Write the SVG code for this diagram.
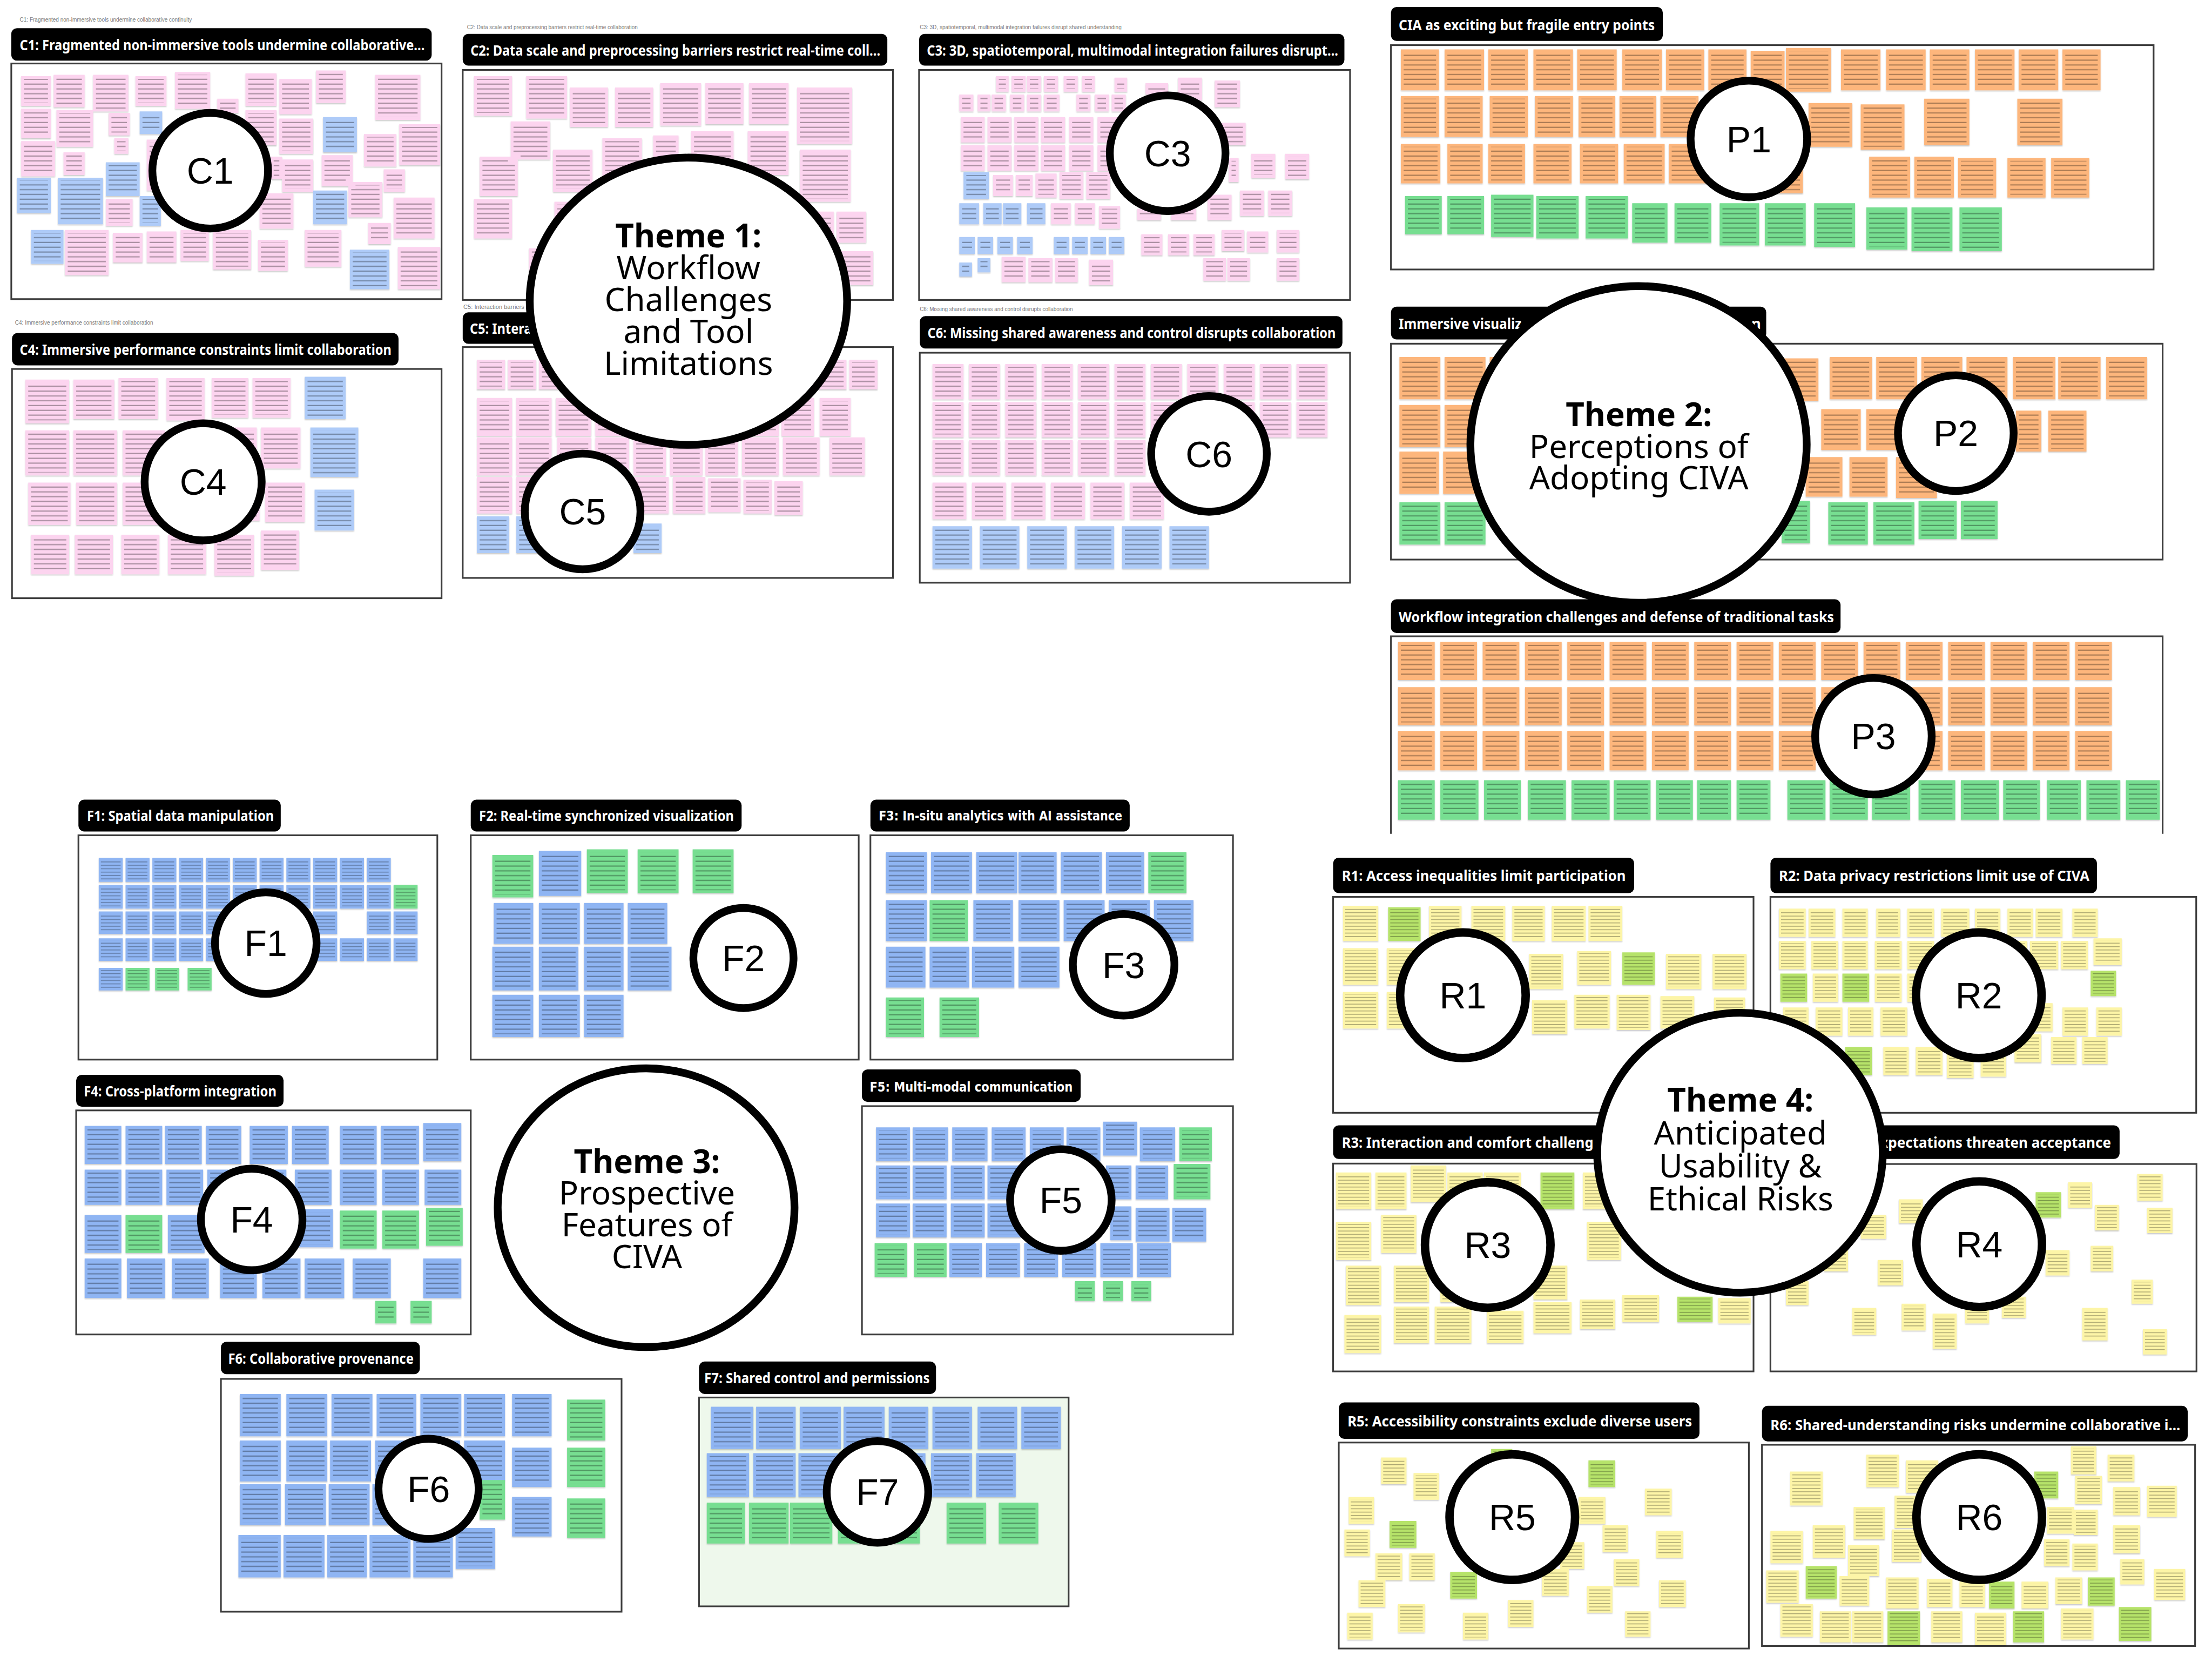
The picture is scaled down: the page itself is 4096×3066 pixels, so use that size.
<svg xmlns="http://www.w3.org/2000/svg" width="4096" height="3066" viewBox="0 0 4096 3066">
<style>
.pk{fill:#fcd4ef}.cb{fill:#aecbf8}.fb{fill:#8fb5f3}.or{fill:#fdb67b}.gr{fill:#77de91}.ye{fill:#fdf5a7}.li{fill:#b6e36b}
.fr{fill:#fff;stroke:#3c3c3c;stroke-width:1.2}
.hb{fill:#000}
.ht{fill:#fff;font-family:"Noto Sans","Liberation Sans",sans-serif;font-weight:700;font-size:10.5px}
.hv{font-family:"DejaVu Sans","Liberation Sans",sans-serif;font-size:9.5px}
.tt{fill:#777;font-family:"Liberation Sans",sans-serif;font-size:4.4px}
.ci{fill:#fff;stroke:#000;stroke-width:5.5}
.cr{fill:#fff;stroke:#000;stroke-width:6}
.cl{font-family:"Liberation Sans",Arial,sans-serif;font-size:26px;text-anchor:middle;fill:#000}
.th{font-family:"Noto Sans","Liberation Sans",sans-serif;font-size:23px;text-anchor:middle;fill:#000}
.tb{font-weight:700}
</style>
<defs>
<pattern id="st" width="8" height="3.4" patternUnits="userSpaceOnUse"><rect y="1.4" width="8" height="0.85" fill="#000" fill-opacity="0.32"/></pattern>
<pattern id="st2" width="8" height="2.4" patternUnits="userSpaceOnUse"><rect y="1" width="8" height="0.6" fill="#000" fill-opacity="0.32"/></pattern>
<mask id="mb" maskUnits="userSpaceOnUse" x="0" y="0" width="1568" height="1174"><g fill="#fff" stroke="#000" stroke-width="4"><use href="#c1p"/><use href="#c1b"/><use href="#c2p"/><use href="#c3p"/><use href="#c3b"/><use href="#c4p"/><use href="#c4b"/><use href="#c5p"/><use href="#c5b"/><use href="#c6p"/><use href="#c6b"/><use href="#p1o"/><use href="#p1g"/><use href="#p2o"/><use href="#p2g"/><use href="#p3o"/><use href="#p3g"/><use href="#f2g"/><use href="#f2b"/><use href="#f3b"/><use href="#f3g"/><use href="#f4b"/><use href="#f4g"/><use href="#f5b"/><use href="#f5g"/><use href="#f6b"/><use href="#f6g"/><use href="#f7b"/><use href="#f7g"/></g></mask>
<mask id="ms" maskUnits="userSpaceOnUse" x="0" y="0" width="1568" height="1174"><g fill="#fff" stroke="#000" stroke-width="3"><use href="#f1b"/><use href="#f1g"/><use href="#r1y"/><use href="#r1l"/><use href="#r2y"/><use href="#r2l"/><use href="#r3y"/><use href="#r3l"/><use href="#r4y"/><use href="#r4l"/><use href="#r5y"/><use href="#r5l"/><use href="#r6y"/><use href="#r6l"/></g></mask>
<filter id="sh" x="-5%" y="-5%" width="110%" height="115%"><feDropShadow dx="0" dy="0.7" stdDeviation="0.5" flood-color="#000" flood-opacity="0.22"/></filter>
</defs>
<rect width="4096" height="3066" fill="#fff"/>
<g transform="scale(2.612245)">

<g id="C1">
<text class="tt" x="14" y="15.5" textLength="122" lengthAdjust="spacingAndGlyphs">C1: Fragmented non-immersive tools undermine collaborative continuity</text>
<rect class="hb" x="8" y="20" width="298" height="23" rx="4"/>
<text class="ht" x="14" y="35.5" textLength="287" lengthAdjust="spacingAndGlyphs">C1: Fragmented non-immersive tools undermine collaborative...</text>
<rect class="fr" x="8" y="45" width="305" height="167"/>
<g filter="url(#sh)">
<g class="pk"><path id="c1p" d="M15 54h21v21h-21zM38 53h22v23h-22zM66 53h25v26h-25zM96 54h22v21h-22zM124 51h25v26h-25zM154 70h15v10h-15zM174 52h22v23h-22zM198 56h23v25h-23zM224 50h21v23h-21zM266 53h32v32h-32zM15 77h21v21h-21zM40 78h26v26h-26zM77 80h15v16h-15zM174 78h22v25h-22zM198 84h24v25h-24zM258 95h23v23h-23zM283 88h29v29h-29zM15 100h24v25h-24zM45 108h15v16h-15zM81 98h10v11h-10zM200 113h22v23h-22zM228 110h22v22h-22zM272 120h15v16h-15zM104 99h9v36h-9zM75 141h19v19h-19zM184 137h24v25h-24zM247 129h24v25h-24zM261 158h16v15h-16zM279 140h29v29h-29zM192 111h8v16h-8zM46 163h31v32h-31zM80 165h21v21h-21zM104 164h21v22h-21zM128 163h20v22h-20zM151 163h27v28h-27zM183 170h21v22h-21zM216 163h26v26h-26zM282 175h30v30h-30z"/></g>
<g class="cb"><path id="c1b" d="M99 79h16v16h-16zM229 83h24v25h-24zM75 115h24v24h-24zM12 126h24v25h-24zM41 126h32v33h-32zM99 139h15v21h-15zM222 135h24v24h-24zM22 163h23v24h-23zM248 177h28v28h-28z"/></g>
</g>
</g>

<g id="C2">
<text class="tt" x="331" y="20.5" textLength="121" lengthAdjust="spacingAndGlyphs">C2: Data scale and preprocessing barriers restrict real-time collaboration</text>
<rect class="hb" x="328" y="24" width="301" height="22.5" rx="4"/>
<text class="ht" x="333.5" y="39.5" textLength="290.5" lengthAdjust="spacingAndGlyphs">C2: Data scale and preprocessing barriers restrict real-time coll...</text>
<rect class="fr" x="328" y="49.6" width="305" height="163"/>
<g class="pk" filter="url(#sh)"><path id="c2p" d="M336 54h27v28h-27zM373 54h29v30h-29zM404 62h27v28h-27zM436 62h27v28h-27zM468 59h29v30h-29zM500 59h27v29h-27zM531 59h28v29h-28zM565 62h39v40h-39zM362 86h28v27h-28zM340 111h27v28h-27zM392 106h28v30h-28zM427 98h28v30h-28zM463 96h18v15h-18zM490 93h30v30h-30zM530 93h29v31h-29zM567 106h36v37h-36zM336 141h27v28h-27zM393 143h26v30h-26zM375 176h25v28h-25zM578 150h13v22h-13zM593 150h21v22h-21zM596 178h23v24h-23z"/></g>
</g>

<g id="C3">
<text class="tt" x="652" y="20.5" textLength="143" lengthAdjust="spacingAndGlyphs">C3: 3D, spatiotemporal, multimodal integration failures disrupt shared understanding</text>
<rect class="hb" x="651.5" y="24" width="301.5" height="22.5" rx="4"/>
<text class="ht" x="657" y="39.5" textLength="291.6" lengthAdjust="spacingAndGlyphs">C3: 3D, spatiotemporal, multimodal integration failures disrupt...</text>
<rect class="fr" x="651.5" y="49.6" width="305.5" height="163"/>
<g filter="url(#sh)">
<g class="pk"><path id="c3p" d="M706 54h9v11h-9zM717 54h10v11h-10zM728 54h10v11h-10zM740 54h10v11h-10zM754 54h10v11h-10zM767 54h9v11h-9zM790 55h9v10h-9zM812 59h16v8h-16zM835 55h17v16h-17zM861 57h18v19h-18zM680 67h10v12h-10zM693 67h9v12h-9zM703 67h10v12h-10zM716 67h10v12h-10zM728 67h10v12h-10zM740 67h11v12h-11zM763 67h10v12h-10zM776 67h10v12h-10zM788 67h10v12h-10zM681 83h17v18h-17zm19 0h17v18h-17zm19 0h17v18h-17zm19 0h17v18h-17zm20 0h17v18h-17zm20 0h17v18h-17zM866 87h17v16h-17zM681 103h17v18h-17zm19 0h17v18h-17zm19 0h17v18h-17zm19 0h17v18h-17zm20 0h17v18h-17zm20 0h17v18h-17zM871 112h7v17h-7zM887 109h17v17h-17zM911 109h17v18h-17zM704 124h14v15h-14zM720 124h12v15h-12zM734 123h15v17h-15zM751 122h17v19h-17zM770 122h17v19h-17zM856 138h17v18h-17zM879 135h17v18h-17zM899 135h17v18h-17zM745 144h14v15h-14zM762 144h14v15h-14zM779 146h15v16h-15zM806 148h17v8h-17zM830 148h18v8h-18zM809 166h15v15h-15zM828 166h15v15h-15zM846 166h15v15h-15zM866 163h16v15h-16zM884 164h15v15h-15zM905 163h16v16h-16zM710 182h17v18h-17zM729 183h17v17h-17zM748 183h16v17h-16zM772 184h17v18h-17zM853 183h16v16h-16zM870 183h16v16h-16zM905 183h16v16h-16z"/></g>
<g class="cb"><path id="c3b" d="M683 122h18v19h-18zM680 144h14v15h-14zM697 144h13v15h-13zM711 144h13v15h-13zM728 144h13v15h-13zM680 168h11v12h-11zm13 0h11v12h-11zm14 0h11v12h-11zm14 0h11v12h-11zM747 168h11v12h-11zm13 0h11v12h-11zm13 0h11v12h-11zm13 0h11v12h-11zM680 186h9v10h-9zM693 183h9v10h-9z"/></g>
</g>
</g>

<g id="C4">
<text class="tt" x="10.6" y="230" textLength="98" lengthAdjust="spacingAndGlyphs">C4: Immersive performance constraints limit collaboration</text>
<rect class="hb" x="8.5" y="236" width="274" height="23" rx="4"/>
<text class="ht" x="14" y="251.5" textLength="263.5" lengthAdjust="spacingAndGlyphs">C4: Immersive performance constraints limit collaboration</text>
<rect class="fr" x="8.5" y="261.5" width="304.5" height="162.5"/>
<g filter="url(#sh)">
<g class="pk"><path id="c4p" d="M18 269h31v31h-31zM52 269h29v28h-29zM84 268h28v29h-28zM118 268h27v30h-27zM150 268h26v28h-26zM179 268h27v28h-27zM18 305h31v32h-31zM52 305h31v32h-31zM87 305h30v32h-30zM120 305h30v32h-30zM153 303h29v28h-29zM185 303h28v29h-28zM20 342h30v30h-30zM54 342h29v30h-29zM87 342h30v30h-30zM121 342h30v30h-30zM155 339h29v30h-29zM188 342h28v28h-28zM22 379h27v28h-27zM53 379h27v28h-27zM86 379h27v28h-27zM119 379h27v28h-27zM152 379h28v29h-28zM185 376h27v28h-27z"/></g>
<g class="cb"><path id="c4b" d="M216 267h29v30h-29zM220 303h34v35h-34zM223 347h28v29h-28z"/></g>
</g>
</g>

<g id="C5">
<text class="tt" x="328.5" y="219" textLength="57" lengthAdjust="spacingAndGlyphs">C5: Interaction barriers restrict</text>
<rect class="hb" x="328" y="221.4" width="262" height="22.3" rx="4"/>
<text class="ht" x="333" y="236.5" textLength="105" lengthAdjust="spacingAndGlyphs">C5: Interaction barriers</text>
<rect class="fr" x="328" y="246" width="305" height="163.6"/>
<g filter="url(#sh)">
<g class="pk"><path id="c5p" d="M338 255h20v21h-20zm22 0h20v21h-20zm22 0h20v21h-20zm22 0h20v21h-20zm22 0h20v21h-20zm22 0h20v21h-20zm22 0h20v21h-20zm22 0h20v21h-20zm22 0h20v21h-20zm22 0h20v21h-20zm22 0h20v21h-20zm22 0h20v21h-20zm22 0h20v21h-20zM338 282h25v27h-25zM366 282h25v27h-25zM394 282h25v27h-25zM422 282h25v27h-25zM450 282h25v27h-25zM478 282h25v27h-25zM506 282h23v27h-23zM531 282h21v27h-21zM554 282h23v27h-23zM581 282h22v27h-22zM338 310h25v27h-25zM366 310h25v27h-25zM395 310h24v27h-24zM422 310h24v27h-24zM449 310h23v27h-23zM475 310h23v27h-23zM500 310h23v27h-23zM526 310h26v27h-26zM555 310h26v27h-26zM588 310h25v27h-25zM338 338h25v26h-25zM366 338h25v26h-25zM394 338h25v26h-25zM422 338h25v26h-25zM449 338h25v26h-25zM477 338h23v26h-23zM502 339h23v24h-23zM527 340h20v24h-20zM549 341h20v24h-20z"/></g>
<g class="cb"><path id="c5b" d="M338 366h23v26h-23zM366 366h23v26h-23zM394 366h23v26h-23zM449 371h20v21h-20z"/></g>
</g>
</g>

<g id="C6">
<text class="tt" x="652" y="220.5" textLength="108.5" lengthAdjust="spacingAndGlyphs">C6: Missing shared awareness and control disrupts collaboration</text>
<rect class="hb" x="652" y="224" width="299.6" height="23" rx="4"/>
<text class="ht" x="657.5" y="239.5" textLength="289.3" lengthAdjust="spacingAndGlyphs">C6: Missing shared awareness and control disrupts collaboration</text>
<rect class="fr" x="652" y="250" width="305" height="163"/>
<g filter="url(#sh)">
<g class="pk"><path id="c6p" d="M661 258h22v25h-22zm25.8 0h22v25h-22zm25.8 0h22v25h-22zm25.8 0h22v25h-22zm25.8 0h22v25h-22zm25.8 0h22v25h-22zm25.8 0h22v25h-22zm25.8 0h22v25h-22zm25.8 0h22v25h-22zm25.8 0h22v25h-22zm25.8 0h22v25h-22zM661 285h22v25h-22zm25.8 0h22v25h-22zm25.8 0h22v25h-22zm25.8 0h22v25h-22zm25.8 0h22v25h-22zm25.8 0h22v25h-22zm25.8 0h22v25h-22zm25.8 0h22v25h-22zm25.8 0h22v25h-22zm25.8 0h22v25h-22zm25.8 0h22v25h-22zM661 312h22v25h-22zm25.8 0h22v25h-22zm25.8 0h22v25h-22zm25.8 0h22v25h-22zm25.8 0h22v25h-22zm25.8 0h22v25h-22zM661 342h24v26h-24zm28 0h24v26h-24zm28 0h24v26h-24zm28 0h24v26h-24zm28 0h24v26h-24zm28 0h24v26h-24z"/></g>
<g class="cb"><path id="c6b" d="M661 373h28v30h-28zm33.6 0h28v30h-28zm33.6 0h28v30h-28zm33.6 0h28v30h-28zm33.6 0h28v30h-28zm33.6 0h28v30h-28z"/></g>
</g>
</g>

<g id="P1">
<rect class="hb" x="986" y="5" width="192.7" height="24" rx="4"/>
<text class="ht" x="991.5" y="21.5" textLength="181.5" lengthAdjust="spacingAndGlyphs">CIA as exciting but fragile entry points</text>
<rect class="fr" x="986" y="32" width="540.6" height="159"/>
<g filter="url(#sh)">
<g class="or"><path id="p1o" d="M993 35h27v29h-27zM1024 35h28v29h-28zM1055 35h28v29h-28zM1087 35h28v29h-28zM1118 35h28v29h-28zM1150 35h28v29h-28zM1181 35h27v29h-27zM1211 35h27v29h-27zM1241 36h24v29h-24zM1266 34h32v31h-32zM1305 35h28v29h-28zM1337 35h28v29h-28zM1368 35h28v29h-28zM1400 35h28v29h-28zM1431 35h28v29h-28zM1462 35h27v29h-27zM993 68h27v29h-27zM1024 68h27v29h-27zM1056 68h27v29h-27zM1088 68h27v29h-27zM1119 68h26v29h-26zM1148 68h26v29h-26zM1177 68h27v29h-27zM1282 73h31v31h-31zM1319 74h31v32h-31zM1364 70h32v33h-32zM1430 70h32v33h-32zM993 102h28v28h-28zM1026 102h25v28h-25zM1055 102h26v28h-26zM1087 102h27v28h-27zM1120 102h27v28h-27zM1151 102h29v28h-29zM1183 102h27v28h-27zM1252 112h26v25h-26zM1325 111h29v29h-29zM1357 111h28v29h-28zM1388 112h27v28h-27zM1423 112h27v28h-27zM1454 112h27v28h-27z"/></g>
<g class="gr"><path id="p1g" d="M996 139h26v27h-26zM1026 139h26v27h-26zM1057 138h30v30h-30zM1089 139h30v30h-30zM1124 139h30v30h-30zM1157 144h25v28h-25zM1187 144h26v28h-26zM1219 144h28v30h-28zM1251 144h29v30h-29zM1286 144h29v31h-29zM1323 147h29v30h-29zM1355 147h29v31h-29zM1389 147h30v31h-30z"/></g>
</g>
</g>

<g id="P2">
<rect class="hb" x="986" y="217.3" width="266" height="23.3" rx="4"/>
<text class="ht" x="991.5" y="233" textLength="87" lengthAdjust="spacingAndGlyphs">Immersive visualiz</text>
<text class="ht" x="1241.5" y="233">n</text>
<rect class="fr" x="986" y="243.6" width="547" height="153"/>
<g filter="url(#sh)">
<g class="or"><path id="p2o" d="M992 253h29v30h-29zm32 0h29v30h-29zm32 0h29v30h-29zm32 0h29v30h-29zm32 0h29v30h-29zm32 0h29v30h-29zm32 0h29v30h-29zm32 0h29v30h-29zM1262 254h27v30h-27zM1297 253h30v30h-30zM1330 253h29v30h-29zM1362 253h29v30h-29zM1394 253h29v30h-29zM1427 253h30v30h-30zM1459 253h30v30h-30zM1493 253h29v30h-29zM992 287h29v30h-29zM1024 287h29v30h-29zM1291 290h28v29h-28zM1323 290h28v29h-28zM1357 290h28v29h-28zM1429 291h18v29h-18zM1452 291h27v29h-27zM992 320h28v30h-28zM1023 320h28v30h-28zM1280 324h26v28h-26zM1311 324h27v28h-27zM1344 324h29v29h-29z"/></g>
<g class="gr"><path id="p2g" d="M992 356h29v30h-29zM1024 356h29v30h-29zM1263 355h20v30h-20zM1296 356h28v30h-28zM1328 356h29v30h-29zM1360 355h27v27h-27zM1390 355h26v27h-26z"/></g>
</g>
</g>

<g id="P3">
<rect class="hb" x="986" y="424.7" width="318.7" height="24" rx="4"/>
<text class="ht" x="991.5" y="441" textLength="308.5" lengthAdjust="spacingAndGlyphs">Workflow integration challenges and defense of traditional tasks</text>
<path d="M986 591V451H1533V591" fill="#fff" stroke="#3c3c3c" stroke-width="1.2"/>
<g filter="url(#sh)">
<g class="or"><path id="p3o" d="M991 455h26v27h-26zm30 0h26v27h-26zm30 0h26v27h-26zm30 0h26v27h-26zm30 0h26v27h-26zm30 0h26v27h-26zm30 0h26v27h-26zm30 0h26v27h-26zm30 0h26v27h-26zm30 0h26v27h-26zm30 0h26v27h-26zm30 0h26v27h-26zm30 0h26v27h-26zm30 0h26v27h-26zm30 0h26v27h-26zm30 0h26v27h-26zm30 0h26v27h-26zM991 487h26v27h-26zm30 0h26v27h-26zm30 0h26v27h-26zm30 0h26v27h-26zm30 0h26v27h-26zm30 0h26v27h-26zm30 0h26v27h-26zm30 0h26v27h-26zm30 0h26v27h-26zm30 0h26v27h-26zm30 0h26v27h-26zm30 0h26v27h-26zm30 0h26v27h-26zm30 0h26v27h-26zm30 0h26v27h-26zm30 0h26v27h-26zm30 0h26v27h-26zM991 518h26v28h-26zm30 0h26v28h-26zm30 0h26v28h-26zm30 0h26v28h-26zm30 0h26v28h-26zm30 0h26v28h-26zm30 0h26v28h-26zm30 0h26v28h-26zm30 0h26v28h-26zm30 0h26v28h-26zm30 0h26v28h-26zm30 0h26v28h-26zm30 0h26v28h-26zm30 0h26v28h-26zm30 0h26v28h-26zm30 0h26v28h-26zm30 0h26v28h-26z"/></g>
<g class="gr"><path id="p3g" d="M991 553h26v28h-26zM1021 553h27v28h-27zM1052 553h26v28h-26zM1083 553h27v28h-27zM1114 553h27v28h-27zM1144 553h26v28h-26zM1174 553h26v28h-26zM1203 553h24v28h-24zM1231 553h24v28h-24zM1267 553h27v28h-27zM1297 553h27v28h-27zM1327 553h27v28h-27zM1360 553h26v28h-26zM1390 553h27v28h-27zM1420 553h26v28h-26zM1451 553h24v28h-24zM1479 553h24v28h-24zM1507 553h24v28h-24z"/></g>
</g>
</g>

<g id="F1">
<rect class="hb" x="55.6" y="566.8" width="143.4" height="22.5" rx="4"/>
<text class="ht" x="61.6" y="582" textLength="132.6" lengthAdjust="spacingAndGlyphs">F1: Spatial data manipulation</text>
<rect class="fr" x="55.6" y="592" width="254.4" height="159"/>
<g filter="url(#sh)">
<g class="fb"><path id="f1b" d="M70 608h17v17h-17zm19 0h17v17h-17zm19 0h17v17h-17zm19 0h17v17h-17zm19 0h17v17h-17zm19 0h17v17h-17zm19 0h17v17h-17zm19 0h17v17h-17zm19 0h17v17h-17zm19 0h17v17h-17zm19 0h17v17h-17zM70 627h17v17h-17zm19 0h17v17h-17zm19 0h17v17h-17zm19 0h17v17h-17zm19 0h17v17h-17zm19 0h17v17h-17zm19 0h17v17h-17zm19 0h17v17h-17zm19 0h17v17h-17zm19 0h17v17h-17zm19 0h17v17h-17zM70 646h17v16h-17zm19 0h17v16h-17zm19 0h17v16h-17zm19 0h17v16h-17zm19 0h17v16h-17zm19 0h17v16h-17zm19 0h17v16h-17zm19 0h17v16h-17zm19 0h17v16h-17zM260 646h17v16h-17zm19 0h17v16h-17zM70 665h17v16h-17zm19 0h17v16h-17zm19 0h17v16h-17zm19 0h17v16h-17zm19 0h17v16h-17zm19 0h17v16h-17zm19 0h17v16h-17zm19 0h17v16h-17zm19 0h17v16h-17zm19 0h17v16h-17zm19 0h17v16h-17zm19 0h17v16h-17zM70 686h17v16h-17z"/></g>
<g class="gr"><path id="f1g" d="M279 627h17v17h-17zM89 686h17v16h-17zM110 686h17v16h-17zM133 686h17v16h-17z"/></g>
</g>
</g>

<g id="F2">
<rect class="hb" x="333.7" y="566.8" width="192" height="22.5" rx="4"/>
<text class="ht" x="339.6" y="582" textLength="180.6" lengthAdjust="spacingAndGlyphs">F2: Real-time synchronized visualization</text>
<rect class="fr" x="333.7" y="592" width="275" height="159"/>
<g filter="url(#sh)">
<g class="gr"><path id="f2g" d="M349 606h29v30h-29zM416 602h29v31h-29zM452 602h29v31h-29zM491 602h29v31h-29z"/></g>
<g class="fb"><path id="f2b" d="M382 603h30v32h-30zM350 640h28v29h-28zM382 640h29v29h-29zM414 640h28v29h-28zM445 640h28v29h-28zM349 671h29v31h-29zM382 671h28v31h-28zM414 671h28v31h-28zM445 671h31v31h-31zM349 705h29v30h-29zM382 705h29v30h-29zM414 705h28v30h-28z"/></g>
</g>
</g>

<g id="F3">
<rect class="hb" x="617" y="566.8" width="183.8" height="22.5" rx="4"/>
<text class="ht hv" x="622.9" y="581.5" textLength="172.6" lengthAdjust="spacingAndGlyphs">F3: In-situ analytics with AI assistance</text>
<rect class="fr" x="617" y="592" width="257" height="159"/>
<g filter="url(#sh)">
<g class="fb"><path id="f3b" d="M628 604h29v29h-29zM660 604h29v29h-29zM692 604h29v29h-29zM722 604h27v29h-27zM752 604h29v29h-29zM784 604h27v29h-27zM628 638h29v29h-29zM690 638h28v29h-28zM722 638h29v29h-29zM754 638h29v29h-29zM786 638h29v29h-29zM818 638h28v29h-28zM628 671h28v29h-28zM659 671h28v29h-28zM689 671h30v29h-30zM722 671h29v29h-29z"/></g>
<g class="gr"><path id="f3g" d="M814 604h27v29h-27zM659 638h27v29h-27zM628 707h27v28h-27zM666 707h28v28h-28z"/></g>
</g>
</g>

<g id="F4">
<rect class="hb" x="54" y="761.8" width="147" height="22.6" rx="4"/>
<text class="ht" x="59.4" y="777" textLength="136.6" lengthAdjust="spacingAndGlyphs">F4: Cross-platform integration</text>
<rect class="fr" x="54" y="787" width="279.7" height="158.8"/>
<g filter="url(#sh)">
<g class="fb"><path id="f4b" d="M60 798h26v27h-26zM89 798h26v27h-26zM117 798h26v27h-26zM146 798h25v27h-25zM177 798h27v27h-27zM207 798h26v27h-26zM241 798h26v27h-26zM270 798h27v27h-27zM300 796h27v27h-27zM60 829h26v25h-26zM89 829h26v25h-26zM118 829h26v25h-26zM147 829h26v25h-26zM177 829h26v25h-26zM209 829h26v25h-26zM241 829h26v25h-26zM271 829h26v25h-26zM301 829h26v25h-26zM60 861h26v27h-26zM119 861h26v27h-26zM148 861h26v27h-26zM178 861h26v27h-26zM210 857h26v27h-26zM60 892h26v28h-26zM90 892h27v28h-27zM122 892h26v28h-26zM156 892h26v28h-26zM186 892h27v28h-27zM216 892h28v28h-28zM250 892h27v28h-27zM300 892h27v28h-27z"/></g>
<g class="gr"><path id="f4g" d="M89 861h26v27h-26zM241 858h26v27h-26zM271 858h26v27h-26zM302 856h26v27h-26zM266 922h15v16h-15zM291 922h15v16h-15z"/></g>
</g>
</g>

<g id="F5">
<rect class="hb" x="611" y="758" width="155" height="23" rx="4"/>
<text class="ht hv" x="616.5" y="773.5" textLength="143.9" lengthAdjust="spacingAndGlyphs">F5: Multi-modal communication</text>
<rect class="fr" x="611" y="784" width="263" height="161.8"/>
<g filter="url(#sh)">
<g class="fb"><path id="f5b" d="M621 799h24v24h-24zM647 799h25v24h-25zM675 799h25v24h-25zM703 799h24v24h-24zM730 799h24v24h-24zM756 799h24v24h-24zM782 795h24v24h-24zM808 799h25v24h-25zM621 826h24v24h-24zM647 826h24v24h-24zM674 826h24v24h-24zM700 826h24v24h-24zM728 826h24v24h-24zM784 826h18v24h-18zM805 826h23v24h-23zM621 853h24v24h-24zM647 853h24v24h-24zM674 853h24v24h-24zM700 853h24v24h-24zM728 853h24v24h-24zM787 855h15v24h-15zM805 856h24v24h-24zM831 856h24v24h-24zM673 881h23v24h-23zM699 881h24v24h-24zM726 881h24v24h-24zM753 881h24v24h-24zM780 881h23v24h-23zM806 881h24v24h-24z"/></g>
<g class="gr"><path id="f5g" d="M836 799h23v24h-23zM832 825h26v25h-26zM620 881h23v24h-23zM648 881h23v24h-23zM762 908h14v14h-14zM782 908h14v14h-14zM802 908h14v14h-14z"/></g>
</g>
</g>

<g id="F6">
<rect class="hb" x="156.6" y="951" width="141" height="23" rx="4"/>
<text class="ht" x="161.7" y="966.5" textLength="131.5" lengthAdjust="spacingAndGlyphs">F6: Collaborative provenance</text>
<rect class="fr" x="156.6" y="977.3" width="284" height="165"/>
<g filter="url(#sh)">
<g class="fb"><path id="f6b" d="M170 988h29v30h-29zM203 988h29v30h-29zM235 988h29v30h-29zM267 988h28v30h-28zM298 988h29v30h-29zM329 988h29v30h-29zM363 988h28v30h-28zM170 1021h29v29h-29zM203 1021h29v29h-29zM234 1021h29v29h-29zM266 1021h29v29h-29zM297 1021h29v29h-29zM329 1021h29v29h-29zM363 1026h28v28h-28zM170 1052h29v29h-29zM202 1052h29v29h-29zM233 1052h29v29h-29zM264 1052h29v29h-29zM363 1061h28v28h-28zM169 1088h30v30h-30zM201 1088h29v30h-29zM232 1088h28v30h-28zM262 1088h29v30h-29zM293 1088h28v30h-28zM323 1083h28v29h-28z"/></g>
<g class="gr"><path id="f6g" d="M402 992h27v29h-27zM402 1026h27v28h-27zM340 1049h18v28h-18zM402 1062h27v28h-27z"/></g>
</g>
</g>

<g id="F7">
<rect class="hb" x="495.5" y="965" width="168" height="23" rx="4"/>
<text class="ht" x="499.2" y="980.5" textLength="159.8" lengthAdjust="spacingAndGlyphs">F7: Shared control and permissions</text>
<rect class="fr" x="495.5" y="990.5" width="262" height="148" style="fill:#eef8ec"/>
<g filter="url(#sh)">
<g class="fb"><path id="f7b" d="M504 997h30v30h-30zM536 997h28v30h-28zM567 997h29v30h-29zM598 997h29v30h-29zM630 997h28v30h-28zM661 997h28v30h-28zM693 997h28v30h-28zM724 997h28v30h-28zM501 1030h30v31h-30zM534 1030h30v31h-30zM566 1030h28v31h-28zM597 1030h28v31h-28zM628 1030h28v31h-28zM660 1030h29v31h-29zM692 1030h28v31h-28z"/></g>
<g class="gr"><path id="f7g" d="M501 1065h27v29h-27zM531 1065h28v29h-28zM560 1065h30v29h-30zM594 1065h27v29h-27zM625 1065h27v29h-27zM671 1065h28v29h-28zM708 1065h28v29h-28z"/></g>
</g>
</g>

<g id="R1">
<rect class="hb" x="945" y="607.9" width="213.4" height="25.1" rx="4"/>
<text class="ht" x="951.2" y="624.5" textLength="201.2" lengthAdjust="spacingAndGlyphs">R1: Access inequalities limit participation</text>
<rect class="fr" x="945" y="635.7" width="298" height="153"/>
<g filter="url(#sh)">
<g class="ye"><path id="r1y" d="M952 642h25v25h-25zM1013 642h23v25h-23zM1043 642h24v25h-24zM1072 642h23v25h-23zM1100 642h24v25h-24zM1126 642h24v25h-24zM952 672h25v26h-25zM983 672h25v26h-25zM1084 676h24v25h-24zM1118 674h24v24h-24zM1181 676h25v25h-25zM1214 676h24v25h-24zM952 703h25v26h-25zM983 703h25v26h-25zM1086 709h25v24h-25zM1116 705h25v24h-25zM1146 705h24v25h-24zM1177 706h24v23h-24zM1215 707h22v22h-22z"/></g>
<g class="li"><path id="r1l" d="M984 643h23v24h-23zM1150 675h23v23h-23z"/></g>
</g>
</g>

<g id="R2">
<rect class="hb" x="1255" y="607.9" width="231.5" height="25.1" rx="4"/>
<text class="ht" x="1261" y="624.5" textLength="220.1" lengthAdjust="spacingAndGlyphs">R2: Data privacy restrictions limit use of CIVA</text>
<rect class="fr" x="1255" y="635.7" width="301.8" height="153"/>
<g filter="url(#sh)">
<g class="ye"><path id="r2y" d="M1261 644h19v20h-19zM1282 644h19v20h-19zM1306 644h18v20h-18zM1330 644h17v20h-17zM1352 644h19v20h-19zM1376 644h20v20h-20zM1400 644h18v20h-18zM1423 644h18v20h-18zM1443 644h19v20h-19zM1469 644h18v20h-18zM1261 667h19v20h-19zM1284 667h19v20h-19zM1306 667h18v20h-18zM1329 667h19v20h-19zM1352 667h19v20h-19zM1375 667h19v20h-19zM1398 667h19v20h-19zM1421 667h16v20h-16zM1439 667h20v20h-20zM1461 667h19v20h-19zM1484 665h20v19h-20zM1285 690h18v20h-18zM1329 690h19v20h-19zM1352 690h19v20h-19zM1264 714h18v20h-18zM1287 714h19v20h-19zM1310 714h18v20h-18zM1333 714h19v20h-19zM1436 711h19v20h-19zM1462 714h18v20h-18zM1486 714h18v20h-18zM1335 742h18v20h-18zM1358 742h19v20h-19zM1380 745h19v19h-19zM1404 745h18v18h-18zM1428 733h19v20h-19zM1454 735h18v19h-18zM1476 735h18v19h-18z"/></g>
<g class="li"><path id="r2l" d="M1262 690h19v20h-19zM1306 690h19v20h-19zM1482 688h18v18h-18zM1308 742h19v20h-19z"/></g>
</g>
</g>

<g id="R3">
<rect class="hb" x="945" y="797.6" width="205" height="23.8" rx="4"/>
<text class="ht" x="951.2" y="813.5" textLength="189" lengthAdjust="spacingAndGlyphs">R3: Interaction and comfort challenges</text>
<rect class="fr" x="945" y="824.7" width="298" height="147.3"/>
<g filter="url(#sh)">
<g class="ye"><path id="r3y" d="M947 831h25v26h-25zM975 831h22v26h-22zM1000 826h25v26h-25zM1026 831h25v26h-25zM1052 831h26v26h-26zM1122 831h24v26h-24zM947 866h25v27h-25zM979 861h25v27h-25zM1125 866h24v27h-24zM954 897h25v28h-25zM988 897h25v26h-25zM1021 897h25v26h-25zM1087 897h24v24h-24zM953 932h26v27h-26zM988 926h25v26h-25zM1017 926h26v26h-26zM1054 929h26v23h-26zM1087 923h27v22h-27zM1120 921h25v21h-25zM1150 918h26v19h-26zM1218 920h23v18h-23z"/></g>
<g class="li"><path id="r3l" d="M1092 831h24v26h-24zM1189 919h25v18h-25z"/></g>
</g>
</g>

<g id="R4">
<rect class="hb" x="1255" y="797.6" width="247.5" height="23.8" rx="4"/>
<text class="ht" x="1326.9" y="813.5" textLength="169.5" lengthAdjust="spacingAndGlyphs">expectations threaten acceptance</text>
<rect class="fr" x="1255" y="825" width="302" height="147"/>
<g filter="url(#sh)">
<g class="ye"><path id="r4y" d="M1346 850h17v17h-17zM1466 838h17v18h-17zM1515 832h18v19h-18zM1522 856h18v18h-18zM1485 854h17v18h-17zM1319 861h18v17h-18zM1482 883h16v18h-16zM1450 886h17v18h-17zM1331 893h18v18h-18zM1511 907h15v17h-15zM1266 908h16v17h-16zM1293 883h17v18h-17zM1393 923h17v15h-17zM1419 919h17v15h-17zM1313 927h17v19h-17zM1348 924h17v19h-17zM1370 931h17v25h-17zM1476 927h18v23h-18zM1519 942h17v18h-17z"/></g>
<g class="li"><path id="r4l" d="M1443 845h18v18h-18z"/></g>
</g>
</g>

<g id="R5">
<rect class="hb" x="949" y="994" width="255.7" height="25.8" rx="4"/>
<text class="ht" x="955.2" y="1011" textLength="244.2" lengthAdjust="spacingAndGlyphs">R5: Accessibility constraints exclude diverse users</text>
<rect class="fr" x="949" y="1022.4" width="290.7" height="146"/>
<g filter="url(#sh)">
<g class="ye"><path id="r5y" d="M979 1033h18v19h-18zM1002 1044h18v19h-18zM956 1061h18v19h-18zM1119 1061h19v19h-19zM1166 1055h19v19h-19zM953 1084h18v19h-18zM1136 1081h18v19h-18zM1174 1085h19v19h-19zM975 1101h19v19h-19zM999 1101h18v19h-18zM1106 1093h17v19h-17zM1093 1112h19v19h-19zM1144 1105h18v19h-18zM1176 1120h19v19h-19zM963 1120h19v19h-19zM1125 1124h18v19h-18zM991 1137h19v20h-19zM1069 1134h18v19h-18zM955 1143h18v19h-18zM1037 1143h18v19h-18zM1152 1142h18v18h-18z"/></g>
<g class="li"><path id="r5l" d="M1057 1027h15v14h-15zM1126 1035h19v19h-19zM985 1078h19v19h-19zM1028 1114h19v19h-19z"/></g>
</g>
</g>

<g id="R6">
<rect class="hb" x="1249" y="996.4" width="301.8" height="25.2" rx="4"/>
<text class="ht" x="1255" y="1013.5" textLength="290.5" lengthAdjust="spacingAndGlyphs">R6: Shared-understanding risks undermine collaborative i...</text>
<rect class="fr" x="1249" y="1024" width="307" height="142.6"/>
<g filter="url(#sh)">
<g class="ye"><path id="r6y" d="M1323 1031h23v23h-23zM1351 1035h23v23h-23zM1468 1025h18v20h-18zM1494 1031h19v19h-19zM1269 1043h23v24h-23zM1471 1046h19v20h-19zM1498 1054h19v20h-19zM1522 1053h21v22h-21zM1314 1068h22v23h-22zM1343 1060h15v23h-15zM1451 1068h19v19h-19zM1470 1070h17v18h-17zM1498 1081h19v20h-19zM1255 1085h23v23h-23zM1285 1081h23v23h-23zM1310 1095h22v22h-22zM1341 1084h21v23h-21zM1449 1091h18v19h-18zM1469 1094h18v19h-18zM1503 1105h17v18h-17zM1527 1112h22v22h-22zM1252 1113h23v23h-23zM1304 1117h21v21h-21zM1337 1118h23v22h-23zM1366 1119h18v20h-18zM1389 1121h18v18h-18zM1433 1121h19v19h-19zM1457 1118h19v19h-19zM1262 1137h23v23h-23zM1290 1142h22v22h-22zM1313 1142h22v22h-22zM1369 1142h22v22h-22zM1400 1143h22v23h-22zM1461 1140h23v22h-23z"/></g>
<g class="li"><path id="r6l" d="M1442 1043h17v19h-17zM1280 1110h22v23h-22zM1410 1121h18v19h-18zM1480 1118h19v20h-19zM1338 1142h23v24h-23zM1427 1142h22v22h-22zM1502 1139h23v24h-23z"/></g>
</g>
</g>

<g id="note-lines">
<g fill="url(#st)" mask="url(#mb)"><use href="#c1p"/><use href="#c1b"/><use href="#c2p"/><use href="#c3p"/><use href="#c3b"/><use href="#c4p"/><use href="#c4b"/><use href="#c5p"/><use href="#c5b"/><use href="#c6p"/><use href="#c6b"/><use href="#p1o"/><use href="#p1g"/><use href="#p2o"/><use href="#p2g"/><use href="#p3o"/><use href="#p3g"/><use href="#f2g"/><use href="#f2b"/><use href="#f3b"/><use href="#f3g"/><use href="#f4b"/><use href="#f4g"/><use href="#f5b"/><use href="#f5g"/><use href="#f6b"/><use href="#f6g"/><use href="#f7b"/><use href="#f7g"/></g>
<g fill="url(#st2)" mask="url(#ms)"><use href="#f1b"/><use href="#f1g"/><use href="#r1y"/><use href="#r1l"/><use href="#r2y"/><use href="#r2l"/><use href="#r3y"/><use href="#r3l"/><use href="#r4y"/><use href="#r4l"/><use href="#r5y"/><use href="#r5l"/><use href="#r6y"/><use href="#r6l"/></g>
</g>

<g id="label-C1"><circle class="ci" cx="149" cy="121" r="41"/><text class="cl" x="149" y="130.3">C1</text></g>
<g id="label-C3"><circle class="ci" cx="827.7" cy="108.6" r="41"/><text class="cl" x="827.7" y="117.9">C3</text></g>
<g id="label-C4"><circle class="ci" cx="144" cy="341.5" r="41.5"/><text class="cl" x="144" y="350.8">C4</text></g>
<g id="label-C5"><circle class="ci" cx="413" cy="362.5" r="41"/><text class="cl" x="413" y="371.8">C5</text></g>
<g id="label-C6"><circle class="ci" cx="857" cy="321.7" r="41"/><text class="cl" x="857" y="331">C6</text></g>
<g id="label-P1"><circle class="ci" cx="1239.7" cy="98.5" r="41.3"/><text class="cl" x="1239.7" y="107.8">P1</text></g>
<g id="label-P2"><circle class="ci" cx="1386.4" cy="307" r="41"/><text class="cl" x="1386.4" y="316.3">P2</text></g>
<g id="label-P3"><circle class="ci" cx="1328" cy="521.8" r="41.3"/><text class="cl" x="1328" y="531.1">P3</text></g>
<g id="label-F1"><circle class="ci" cx="188.4" cy="668.4" r="36"/><text class="cl" x="188.4" y="677.7">F1</text></g>
<g id="label-F2"><circle class="ci" cx="527" cy="679" r="35.5"/><text class="cl" x="527" y="688.3">F2</text></g>
<g id="label-F3"><circle class="ci" cx="796.5" cy="683.8" r="36"/><text class="cl" x="796.5" y="693.1">F3</text></g>
<g id="label-F4"><circle class="ci" cx="178.4" cy="864.3" r="36"/><text class="cl" x="178.4" y="873.6">F4</text></g>
<g id="label-F5"><circle class="ci" cx="752" cy="850.5" r="36"/><text class="cl" x="752" y="859.8">F5</text></g>
<g id="label-F6"><circle class="ci" cx="303.8" cy="1055.2" r="35.5"/><text class="cl" x="303.8" y="1064.5">F6</text></g>
<g id="label-F7"><circle class="ci" cx="622" cy="1057.4" r="36"/><text class="cl" x="622" y="1066.7">F7</text></g>
<g id="label-R1"><circle class="cr" cx="1037" cy="705.4" r="44.5"/><text class="cl" x="1037" y="714.7">R1</text></g>
<g id="label-R2"><circle class="cr" cx="1402.7" cy="705.4" r="44.5"/><text class="cl" x="1402.7" y="714.7">R2</text></g>
<g id="label-R3"><circle class="cr" cx="1054.6" cy="882.4" r="44.5"/><text class="cl" x="1054.6" y="891.7">R3</text></g>
<g id="label-R4"><circle class="cr" cx="1403" cy="881.8" r="44.5"/><text class="cl" x="1403" y="891.1">R4</text></g>
<g id="label-R5"><circle class="cr" cx="1072" cy="1075.3" r="44.5"/><text class="cl" x="1072" y="1084.6">R5</text></g>
<g id="label-R6"><circle class="cr" cx="1403" cy="1075.3" r="44.5"/><text class="cl" x="1403" y="1084.6">R6</text></g>

<g id="theme-1"><ellipse class="ci" cx="488" cy="213.5" rx="112.5" ry="101.8"/>
<text class="th"><tspan class="tb" x="488" y="175.5">Theme 1:</tspan><tspan x="488" y="198">Workflow</tspan><tspan x="488" y="220.5">Challenges</tspan><tspan x="488" y="243">and Tool</tspan><tspan x="488" y="265.5">Limitations</tspan></text></g>
<g id="theme-2"><ellipse class="ci" cx="1161.5" cy="315" rx="119.2" ry="112.2"/>
<text class="th"><tspan class="tb" x="1161.7" y="302">Theme 2:</tspan><tspan x="1161.7" y="324.5">Perceptions of</tspan><tspan x="1161.7" y="347">Adopting CIVA</tspan></text></g>
<g id="theme-3"><ellipse class="ci" cx="458" cy="856" rx="105.2" ry="98.8"/>
<text class="th"><tspan class="tb" x="458.6" y="831.3">Theme 3:</tspan><tspan x="458.6" y="853.8">Prospective</tspan><tspan x="458.6" y="876.3">Features of</tspan><tspan x="458.6" y="898.8">CIVA</tspan></text></g>
<g id="theme-4"><ellipse class="ci" cx="1233.4" cy="817" rx="101.2" ry="99.2"/>
<text class="th"><tspan class="tb" x="1233.7" y="788">Theme 4:</tspan><tspan x="1233.7" y="811.3">Anticipated</tspan><tspan x="1233.7" y="834.6">Usability &amp;</tspan><tspan x="1233.7" y="857.9">Ethical Risks</tspan></text></g>

</g>
</svg>
